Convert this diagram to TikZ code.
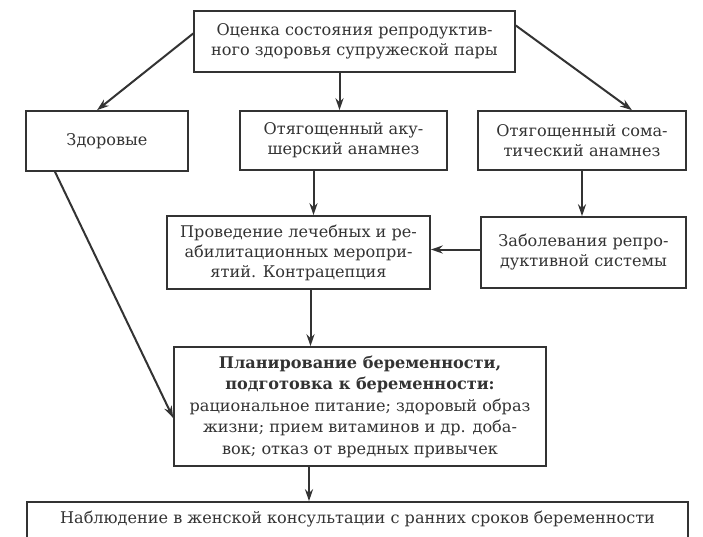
\documentclass[tikz,border=0pt]{standalone}
\usepackage{fontspec}
\setmainfont{DejaVu Serif}
\usetikzlibrary{arrows.meta}
\definecolor{ink}{HTML}{333333}

\begin{document}
\begin{tikzpicture}[x=1pt,y=-1pt,
    box/.style={draw=ink, line width=1.6pt, text=ink, align=center, inner sep=0pt,
      font=\fontsize{16.1}{20}\selectfont},
    arr/.style={draw=ink, line width=2pt, -{Stealth[length=12pt,width=8pt]}}]
  \useasboundingbox[fill=white] (0,0) rectangle (703,536);
  % top row
  \node[box, minimum width=321pt, minimum height=61pt] (ocenka) at (354.5,41.5)
    {Оценка состояния репродуктив-\\ного здоровья супружеской пары};
  \node[box, minimum width=162pt, minimum height=60pt] (zdorov) at (107,141) {Здоровые};
  \node[box, minimum width=207pt, minimum height=59pt] (akush) at (343.5,140.5)
    {Отягощенный аку-\\шерский анамнез};
  \node[box, minimum width=208pt, minimum height=59pt] (somat) at (582,140.5)
    {Отягощенный сома-\\тический анамнез};
  % middle
  \node[box, minimum width=263pt, minimum height=73pt] (proved) at (298.5,252.5)
    {Проведение лечебных и ре-\\абилитационных меропри-\\ятий. Контрацепция};
  \node[box, minimum width=205pt, minimum height=71pt] (zabol) at (583.5,252.5)
    {Заболевания репро-\\дуктивной системы};
  \node[box, minimum width=372pt, minimum height=119pt, font=\fontsize{16.1}{21.5}\selectfont] (plan) at (360,406.5)
    {\textbf{Планирование беременности,}\\\textbf{подготовка к беременности:}\\
     рациональное питание; здоровый образ\\жизни; прием витаминов и др. доба-\\вок; отказ от вредных привычек};
  % bottom, cut by the page
  \begin{scope}
    \clip (0,0) rectangle (703,536);
    \node[box, minimum width=661pt, text height=12pt, text depth=40pt, inner ysep=9pt,
      anchor=base] (nabl) at (357.5,523)
      {Наблюдение в женской консультации с ранних сроков беременности};
  \end{scope}

  \draw[arr] ([yshift=8pt]ocenka.west) -- ([xshift=-10pt]zdorov.north);
  \draw[arr] ([xshift=-4pt]akush.north |- ocenka.south) -- ([xshift=-4pt]akush.north);
  \draw[arr] ([yshift=16pt]ocenka.east) -- ([xshift=50pt]somat.north);
  \draw[arr] ([xshift=-30pt]akush.south) -- ([xshift=-30pt]akush.south |- proved.north);
  \draw[arr] (somat.south) -- (somat.south |- zabol.north);
  \draw[arr] ([yshift=3pt]zabol.west) -- ([yshift=3pt]zabol.west -| proved.east);
  \draw[arr] ([xshift=12pt]proved.south) -- ([xshift=12pt]proved.south |- plan.north);
  \draw[arr] ([xshift=-52pt]zdorov.south) -- ([yshift=-11.5pt]plan.west);
  \draw[arr] ([xshift=-51pt]plan.south) -- ([xshift=-51pt]plan.south |- nabl.north);
\end{tikzpicture}
\end{document}
